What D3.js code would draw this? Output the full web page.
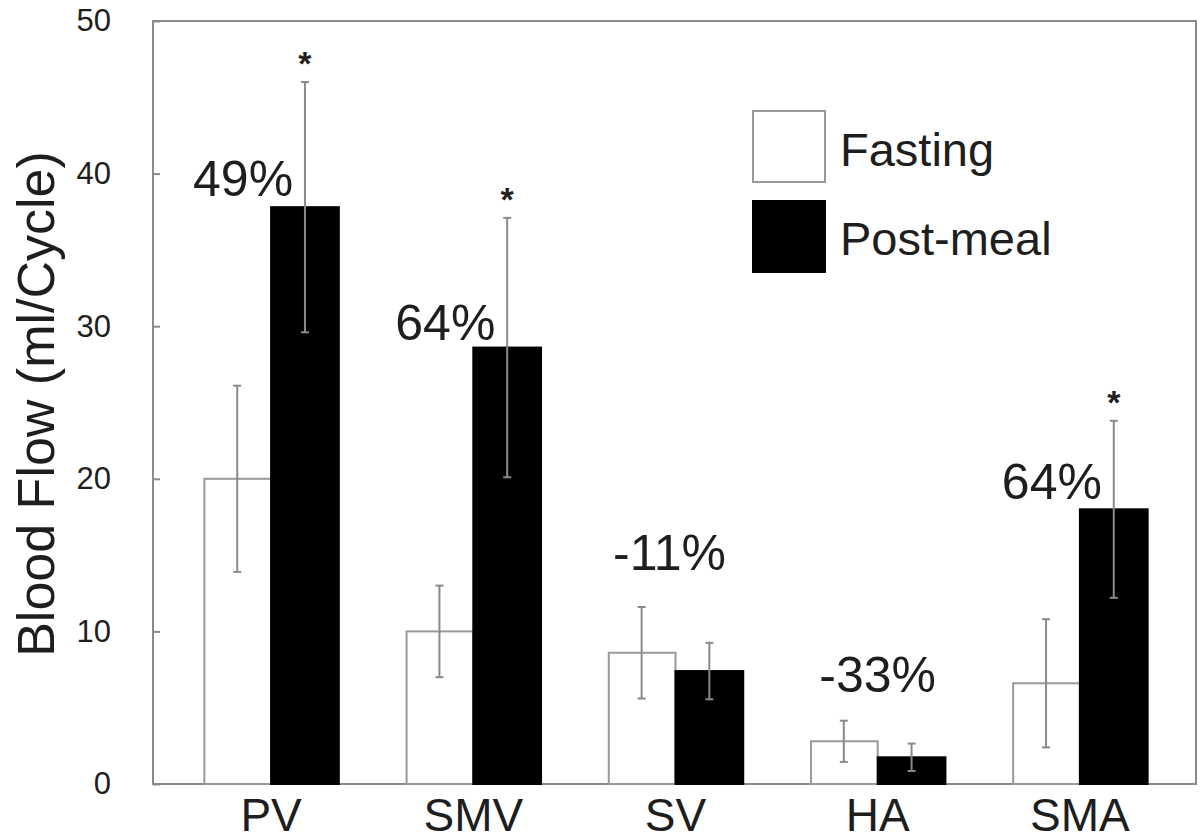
<!DOCTYPE html>
<html>
<head>
<meta charset="utf-8">
<script src="https://cdn.jsdelivr.net/npm/d3@7"></script>
<style>
  html, body { margin: 0; padding: 0; background: #fff; }
  svg { display: block; font-family: "Liberation Sans", Arial, sans-serif; }
</style>
</head>
<body>
<svg id="chart" width="1200" height="840"></svg>
<script>
// ---- data ----
const categories = ["PV", "SMV", "SV", "HA", "SMA"];
const seriesNames = ["Fasting", "Post-meal"];
const fastingMean = [20.0, 10.0, 8.6, 2.8, 6.6];
const fastingErr  = [6.1, 3.0, 3.0, 1.35, 4.2];
const postMean    = [37.8, 28.6, 7.4, 1.75, 18.0];
const postErr     = [8.2, 8.5, 1.85, 0.9, 5.8];
const changeLabels = ["49%", "64%", "-11%", "-33%", "64%"];
const changeLabelValue = [38.5, 29.1, 14.0, 6.0, 18.7];
const significant = [true, true, false, false, true];
const yTicks = [0, 10, 20, 30, 40, 50];

// ---- layout ----
const svg = d3.select("#chart");
const frame = { left: 153, right: 1196, top: 21, bottom: 784 };

const y = d3.scaleLinear().domain([0, 50]).range([frame.bottom, frame.top]);
const x0 = d3.scaleBand().domain(categories).range([170, 1181])
  .paddingInner(0.33).paddingOuter(0.165);
const x1 = d3.scaleBand().domain(seriesNames).range([0, x0.bandwidth()]).padding(0);

const grey = "#8a8a8a";
const textCol = "#1e1e1e";

// frame
svg.append("rect")
  .attr("x", frame.left).attr("y", frame.top)
  .attr("width", frame.right - frame.left).attr("height", frame.bottom - frame.top)
  .attr("fill", "none").attr("stroke", grey).attr("stroke-width", 2);

// y axis
const yAxis = d3.axisLeft(y).tickValues(yTicks).tickSize(-7).tickPadding(42)
  .tickFormat(d3.format("d"));
const gy = svg.append("g").attr("transform", `translate(${frame.left},0)`).call(yAxis);
gy.select(".domain").remove();
gy.selectAll(".tick line").attr("stroke", grey).attr("stroke-width", 2);
gy.selectAll(".tick text").attr("font-size", 31).attr("fill", textCol)
  .attr("font-family", "Liberation Sans, Arial, sans-serif");

// y title
svg.append("text")
  .attr("transform", `translate(54,404) rotate(-90)`)
  .attr("text-anchor", "middle")
  .attr("font-size", 52).attr("fill", textCol)
  .text("Blood Flow (ml/Cycle)");

// x axis labels
const xAxis = d3.axisBottom(x0).tickSize(0).tickPadding(14);
const gx = svg.append("g").attr("transform", `translate(0,${frame.bottom})`).call(xAxis);
gx.select(".domain").remove();
gx.selectAll(".tick text").attr("font-size", 46).attr("fill", textCol)
  .attr("font-family", "Liberation Sans, Arial, sans-serif")
  .attr("dy", "0.71em");

// bars
const rows = categories.map((c, i) => ({
  cat: c,
  vals: [
    { s: "Fasting", v: fastingMean[i], e: fastingErr[i] },
    { s: "Post-meal", v: postMean[i], e: postErr[i] }
  ],
  label: changeLabels[i], labelV: changeLabelValue[i], sig: significant[i]
}));

const groups = svg.append("g").selectAll("g").data(rows).join("g")
  .attr("transform", d => `translate(${x0(d.cat)},0)`);

groups.selectAll("rect").data(d => d.vals).join("rect")
  .attr("x", d => x1(d.s) + (d.s === "Fasting" ? 1 : 0))
  .attr("y", d => y(d.v))
  .attr("width", d => x1.bandwidth() - (d.s === "Fasting" ? 1 : 0))
  .attr("height", d => y(0) - y(d.v))
  .attr("fill", d => d.s === "Fasting" ? "#fff" : "#000")
  .attr("stroke", d => d.s === "Fasting" ? "#999" : "#000")
  .attr("stroke-width", 2);

// error bars
const eb = groups.selectAll("g.err").data(d => d.vals).join("g").attr("class", "err");
eb.append("line")
  .attr("x1", d => x1(d.s) + x1.bandwidth() / 2).attr("x2", d => x1(d.s) + x1.bandwidth() / 2)
  .attr("y1", d => y(d.v + d.e)).attr("y2", d => y(d.v - d.e))
  .attr("stroke", grey).attr("stroke-width", 2);
[1, -1].forEach(sign => {
  eb.append("line")
    .attr("x1", d => x1(d.s) + x1.bandwidth() / 2 - 4).attr("x2", d => x1(d.s) + x1.bandwidth() / 2 + 4)
    .attr("y1", d => y(d.v + sign * d.e)).attr("y2", d => y(d.v + sign * d.e))
    .attr("stroke", grey).attr("stroke-width", 2);
});

// significance asterisks
groups.filter(d => d.sig).append("text")
  .attr("x", x1("Post-meal") + x1.bandwidth() / 2)
  .attr("y", d => y(d.vals[1].v + d.vals[1].e) - 7)
  .attr("text-anchor", "middle").attr("font-size", 34).attr("font-weight", "bold")
  .attr("fill", textCol)
  .text("*");

// change labels
const labelDx = [-28, -28, -6, 0, -28];
groups.append("text")
  .attr("x", (d, i) => x0.bandwidth() / 2 + labelDx[i])
  .attr("y", d => y(d.labelV))
  .attr("text-anchor", "middle").attr("font-size", 50).attr("fill", textCol)
  .text(d => d.label);

// legend
const legend = svg.append("g").attr("transform", "translate(752,110)");
const lg = legend.selectAll("g").data(seriesNames).join("g")
  .attr("transform", (d, i) => `translate(0,${i * 90})`);
lg.append("rect")
  .attr("x", 1).attr("y", 1).attr("width", 72).attr("height", 71)
  .attr("fill", (d, i) => i === 0 ? "#fff" : "#000")
  .attr("stroke", (d, i) => i === 0 ? "#999" : "#000").attr("stroke-width", 2);
lg.append("text")
  .attr("x", 88).attr("y", (d, i) => i === 0 ? 56 : 55)
  .attr("font-size", 47).attr("fill", textCol)
  .text(d => d);
</script>
</body>
</html>
